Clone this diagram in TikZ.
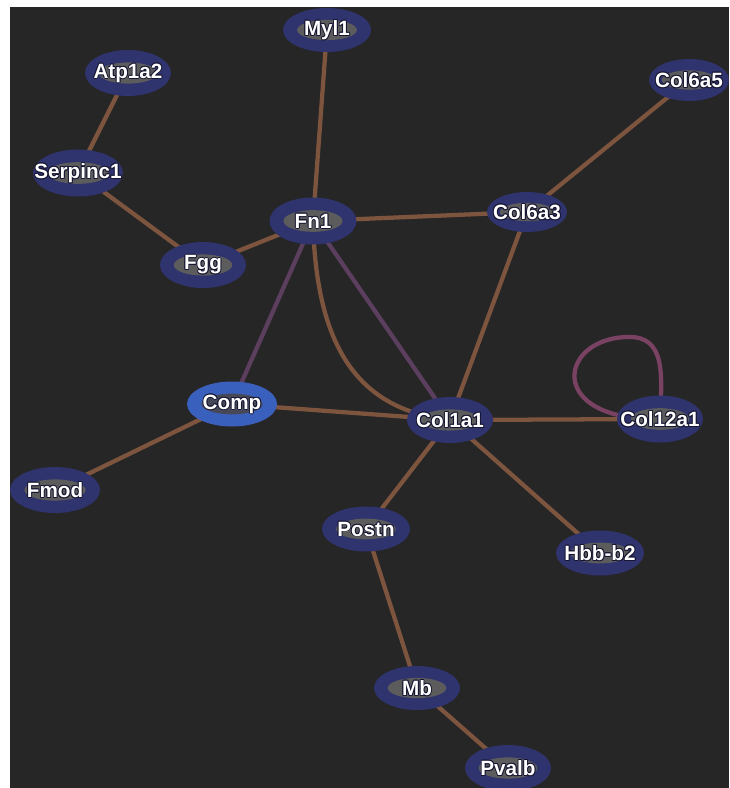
\documentclass[tikz,border=0pt]{standalone}
\usepackage{fontspec}
\setmainfont{Liberation Sans}
\usetikzlibrary{backgrounds,shapes.geometric}
\definecolor{canvas}{RGB}{38,38,38}
\definecolor{ring}{RGB}{47,51,110}
\definecolor{ringhi}{RGB}{58,96,190}
\definecolor{core}{RGB}{92,92,92}
\definecolor{corehi}{RGB}{70,72,88}
\definecolor{linkbrown}{RGB}{125,84,62}
\definecolor{linkpurple}{RGB}{92,62,94}
\definecolor{linkpink}{RGB}{122,66,98}
\definecolor{txtedge}{RGB}{22,22,50}

\pgfdeclarelayer{canvaslayer}
\pgfdeclarelayer{edgelayer}
\pgfsetlayers{canvaslayer,edgelayer,main}

% white label with a thin dark rim
\newcommand\rimmed[1]{\leavevmode
  \rlap{\raisebox{0.7pt}{\textcolor{txtedge}{#1}}}%
  \rlap{\raisebox{-0.7pt}{\textcolor{txtedge}{#1}}}%
  \rlap{\hspace{0.7pt}\textcolor{txtedge}{#1}}%
  \rlap{\hspace{-0.7pt}\textcolor{txtedge}{#1}}%
  \rlap{\hspace{0.5pt}\raisebox{0.5pt}{\textcolor{txtedge}{#1}}}%
  \rlap{\hspace{-0.5pt}\raisebox{-0.5pt}{\textcolor{txtedge}{#1}}}%
  \rlap{\hspace{0.5pt}\raisebox{-0.5pt}{\textcolor{txtedge}{#1}}}%
  \rlap{\hspace{-0.5pt}\raisebox{0.5pt}{\textcolor{txtedge}{#1}}}%
  \textcolor{white}{#1}}

\tikzset{
  genering/.style={ellipse, inner sep=0pt, draw=none},
  genetext/.style={inner sep=0pt, font=\fontsize{15.5}{15.5}\selectfont\bfseries},
  link/.style={line width=3.2pt, draw=linkbrown},
  plink/.style={line width=3.2pt, draw=linkpurple},
}

% name, x, y, label, width, height, ring colour, core colour
\newcommand\gene[8]{%
  \node[genering, fill=#7, minimum width={#5*0.75pt}, minimum height={#6*0.75pt}] (#1) at (#2,#3) {};
  \fill[#8] (#1.center) ellipse [x radius={#5*0.34*0.75pt}, y radius={#6*0.23*0.75pt}];
  \node[genetext] (#1-label) at (#1.center) {\rimmed{#4}};
}

\begin{document}
\begin{tikzpicture}[x=0.75pt,y=-0.75pt]
\useasboundingbox (0,0) rectangle (729,788);
\begin{pgfonlayer}{canvaslayer}
  \fill[white] (0,0) rectangle (729,788);
  \fill[canvas] (10,7) rectangle (729,788);
\end{pgfonlayer}

\gene{myl}{327}{30}{Myl1}{88}{44}{ring}{core}
\gene{atp}{128}{73}{Atp1a2}{86}{46}{ring}{core}
\gene{colsixafive}{689}{80}{Col6a5}{80}{42}{ring}{core}
\gene{serp}{78}{173}{Serpinc1}{90}{47}{ring}{core}
\gene{fn}{313}{221}{Fn1}{87}{47}{ring}{core}
\gene{colsixathree}{527}{212}{Col6a3}{80}{40}{ring}{core}
\gene{fgg}{203}{265}{Fgg}{86}{46}{ring}{core}
\gene{comp}{232}{404}{Comp}{90}{45}{ringhi}{corehi}
\gene{colonea}{450}{420}{Col1a1}{86}{46}{ring}{core}
\gene{coltwelve}{660}{419}{Col12a1}{86}{47}{ring}{core}
\gene{fmod}{55}{490}{Fmod}{90}{46}{ring}{core}
\gene{postn}{366}{529}{Postn}{88}{45}{ring}{core}
\gene{hbb}{600}{553}{Hbb-b2}{88}{45}{ring}{core}
\gene{mb}{417}{688}{Mb}{86}{44}{ring}{core}
\gene{pvalb}{508}{768}{Pvalb}{86}{46}{ring}{core}

\begin{pgfonlayer}{edgelayer}
  \draw[link] (myl.center) -- (fn.center);
  \draw[link] (atp.center) -- (serp.center);
  \draw[link] (serp.center) -- (fgg.center);
  \draw[link] (fgg.center) -- (fn.center);
  \draw[link] (fn.center) -- (colsixathree.center);
  \draw[link] (colsixathree.center) -- (colsixafive.center);
  \draw[link] (colsixathree.center) -- (colonea.center);
  \draw[plink] (fn.center) -- (comp.center);
  \draw[plink] (fn.center) -- (colonea.center);
  \draw[link] (fn.center) .. controls (316,350) and (360,410) .. (colonea.center);
  \draw[link] (comp.center) -- (colonea.center);
  \draw[link] (comp.center) -- (fmod.center);
  \draw[link] (colonea.center) -- (coltwelve.center);
  % self-loop on Col12a1
  \draw[line width=3.2pt, draw=linkpink] (coltwelve.center)
    .. controls (545,421) and (558,338) .. (628,337)
    .. controls (666,336) and (662,375) .. (coltwelve.center);
  \draw[link] (colonea.center) -- (postn.center);
  \draw[link] (colonea.center) -- (hbb.center);
  \draw[link] (postn.center) -- (mb.center);
  \draw[link] (mb.center) -- (pvalb.center);
\end{pgfonlayer}
\end{tikzpicture}
\end{document}
